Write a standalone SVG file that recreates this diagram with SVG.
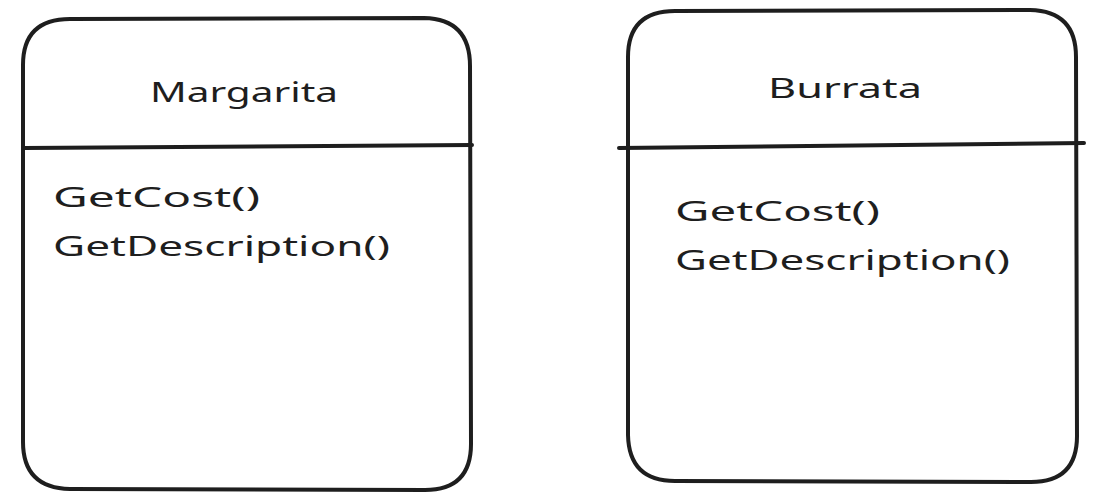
<svg xmlns="http://www.w3.org/2000/svg" width="1105" height="500" viewBox="0 0 1105 500">
  <style>
    .box{fill:none;stroke:#1e1e1e;stroke-width:4;stroke-linecap:round;stroke-linejoin:round}
    .t{font-family:"Noto Sans","Liberation Sans",sans-serif;fill:#1e1e1e;font-size:28px}
  </style>
  <rect x="0" y="0" width="1105" height="500" fill="#ffffff"/>
  <g id="margarita">
    <path class="box" d="M 70,19 L 424,18 Q 470,19 470,66 L 471,444 Q 471,490 425,490 L 70,489 Q 23,488 23,442 L 23,65 Q 23,19 70,19 Z"/>
    <path class="box" d="M 24,148 L 472,145"/>
    <text class="t" x="150" y="102" textLength="188" lengthAdjust="spacingAndGlyphs">Margarita</text>
    <text class="t" x="53" y="207" textLength="207" lengthAdjust="spacingAndGlyphs">GetCost()</text>
    <text class="t" x="53" y="256" textLength="337" lengthAdjust="spacingAndGlyphs">GetDescription()</text>
  </g>
  <g id="burrata">
    <path class="box" d="M 675,11 L 1030,10 Q 1076,11 1076,57 L 1077,436 Q 1077,482 1031,482 L 675,481 Q 629,481 628,435 L 628,57 Q 628,11 675,11 Z"/>
    <path class="box" d="M 619,148 L 1084,143"/>
    <text class="t" x="768" y="98" textLength="154" lengthAdjust="spacingAndGlyphs">Burrata</text>
    <text class="t" x="675" y="221" textLength="205" lengthAdjust="spacingAndGlyphs">GetCost()</text>
    <text class="t" x="675" y="270" textLength="335" lengthAdjust="spacingAndGlyphs">GetDescription()</text>
  </g>
  <g id="connectors"></g>
</svg>
